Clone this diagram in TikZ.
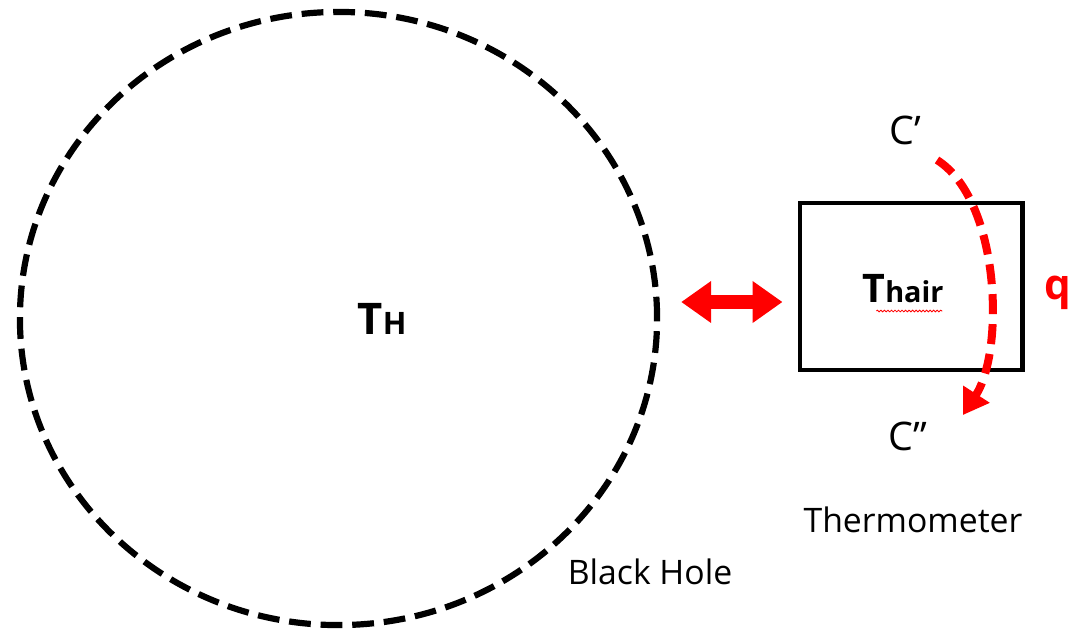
\documentclass[tikz,border=0pt]{standalone}
\usepackage{fontspec}
\setmainfont{Open Sans}
\usepackage{tikz}
\usetikzlibrary{positioning, arrows.meta, shapes.geometric, decorations.pathmorphing}

\begin{document}
\begin{tikzpicture}[
    x=0.025cm, y=-0.025cm,
    bhcircle/.style={ellipse, draw, line width=4.4pt, dash pattern=on 15.5pt off 7pt, inner sep=0pt, minimum width=15.925cm, minimum height=15.325cm},
    thermbox/.style={rectangle, draw, line width=3.5pt, inner sep=0pt, minimum width=5.55cm, minimum height=4.175cm},
    lbl/.style={font=\fontsize{24}{30}\selectfont, inner sep=0pt},
    swaparrow/.style={red, line width=10.6pt, {Triangle[length=0.75cm, width=1cm]}-{Triangle[length=0.75cm, width=1cm]}},
    heatarrow/.style={red, line width=5.7pt, dash pattern=on 0.5cm off 0.25cm, -{Triangle[length=0.62cm, width=0.75cm]}}
]
    \useasboundingbox (0,0) rectangle (1076,633);

    % Black hole and thermometer
    \node[bhcircle] (blackhole) at (338.5,318.5) {};
    \node[thermbox] (thermo) at (911,286.5) {};

    % Temperatures
    \node[inner sep=0pt, anchor=base] (th) at (382,334) {\bfseries\fontsize{31}{36}\selectfont T\fontsize{22}{28}\selectfont H};
    \node[inner sep=0pt, anchor=base] (thair) at (903,302) {\bfseries\fontsize{28}{32}\selectfont T\fontsize{20.5}{26}\selectfont hair};
    \draw[red, line width=0.6pt, decorate, decoration={snake, amplitude=0.6pt, segment length=2.5pt}]
        ([xshift=-48pt]thair.base east |- 0,311) -- ([xshift=-1pt]thair.base east |- 0,311);

    % Labels
    \node[lbl, font=\fontsize{28}{34}\selectfont] (cprime) at (905,130) {C’};
    \node[lbl, font=\fontsize{28}{34}\selectfont] (cdprime) at (908,436) {C’’};
    \node[lbl, text=red, font=\bfseries\fontsize{30}{36}\selectfont] (q) at (1058,293) {q};
    \node[lbl] (bhlabel) at (650,572) {Black Hole};
    \node[lbl] (thlabel) at (913,520) {Thermometer};

    % Exchange and heat flow
    \draw[swaparrow] (blackhole.east |- 0,302) ++(21,0) -- ([xshift=-0.375cm]thermo.west |- 0,302);
    \coordinate (qin) at (937,160);
    \coordinate (qout) at (963,415);
    \draw[heatarrow] (qin) .. controls (1000,200) and (1005,350) .. (qout);
\end{tikzpicture}
\end{document}
